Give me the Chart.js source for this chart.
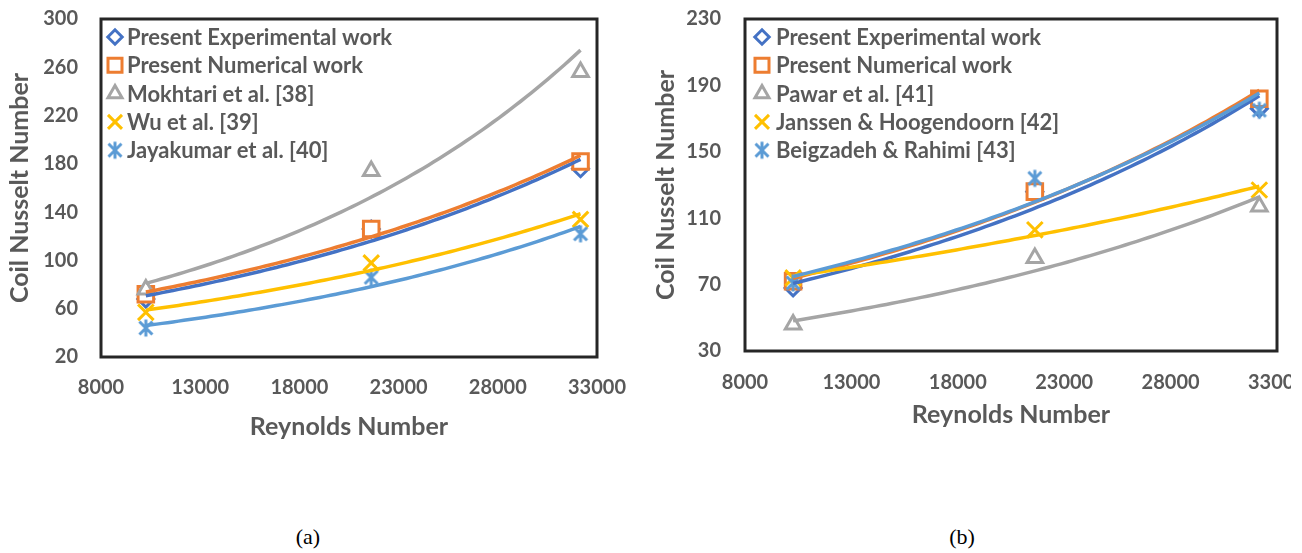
<!DOCTYPE html>
<html>
<head>
<meta charset="utf-8">
<script src="https://cdn.jsdelivr.net/npm/chart.js@4.4.1/dist/chart.umd.min.js"></script>
<style>
  html, body { margin: 0; padding: 0; background: #fff; }
  body { width: 1302px; height: 553px; position: relative; overflow: hidden; }
  #wrapA { position: absolute; left: 0; top: 0; width: 640px; height: 470px; }
  #wrapB { position: absolute; left: 640px; top: 0; width: 651px; height: 470px; overflow: hidden; }
  .cap { position: absolute; top: 524px; width: 100px; text-align: center;
         font-family: "Liberation Serif", "Times New Roman", serif; font-size: 22px; line-height: 26px; color: #000; }
</style>
</head>
<body>
<div id="wrapA"><canvas id="chartA" width="640" height="470"></canvas></div>
<div id="wrapB"><canvas id="chartB" width="700" height="470"></canvas></div>
<div class="cap" style="left:258px">(a)</div>
<div class="cap" style="left:912px">(b)</div>
<script>
// Reynolds numbers of the three test cases (shared by both panels)
const reynolds = [10260, 21620, 32170];

// Coil Nusselt numbers
const presentExperimental = [68, 126, 176];
const presentNumerical = [72, 126, 182];
const mokhtari = [76, 174, 256];
const wu = [57, 98, 134];
const jayakumar = [44, 86, 122];
const pawar = [46, 86, 117];
const janssen = [74, 103, 127];
const beigzadeh = [71, 134, 175];

// Axis tick labels
const xTicks = [8000, 13000, 18000, 23000, 28000, 33000];
const yTicksA = [20, 60, 100, 140, 180, 220, 260, 300];
const yTicksB = [30, 70, 110, 150, 190, 230];

const TEXT = '#595959';
const FONT = 'Lato, "Open Sans", sans-serif';
const COLORS = { blue: '#4472C4', orange: '#ED7D31', grey: '#A5A5A5', gold: '#FFC000', sky: '#5B9BD5' };

// asterisk marker (X with a vertical stroke)
function asteriskMarker(color) {
  const c = document.createElement('canvas');
  c.width = 20; c.height = 20;
  const g = c.getContext('2d');
  g.strokeStyle = color; g.lineWidth = 3; g.lineCap = 'butt';
  g.beginPath();
  g.moveTo(3.5, 3.5); g.lineTo(16.5, 16.5);
  g.moveTo(16.5, 3.5); g.lineTo(3.5, 16.5);
  g.moveTo(10, 1.5); g.lineTo(10, 18.5);
  g.stroke();
  return c;
}

// Excel-style exponential trendline: least squares on ln(y)
function expFit(xs, ys, steps) {
  const ly = ys.map(Math.log);
  const n = xs.length;
  const mx = xs.reduce((a, b) => a + b, 0) / n;
  const my = ly.reduce((a, b) => a + b, 0) / n;
  let sxy = 0, sxx = 0;
  for (let i = 0; i < n; i++) { sxy += (xs[i] - mx) * (ly[i] - my); sxx += (xs[i] - mx) ** 2; }
  const b = sxy / sxx, a = my - b * mx;
  const x0 = Math.min(...xs), x1 = Math.max(...xs);
  const pts = [];
  for (let k = 0; k <= steps; k++) {
    const x = x0 + (x1 - x0) * k / steps;
    pts.push({ x, y: Math.exp(a + b * x) });
  }
  return pts;
}

// plot frame
const framePlugin = {
  id: 'plotFrame',
  afterDraw(chart) {
    const { ctx, chartArea: a } = chart;
    ctx.save();
    ctx.strokeStyle = '#262626';
    ctx.lineWidth = 3;
    ctx.strokeRect(a.left, a.top, a.right - a.left, a.bottom - a.top);
    ctx.restore();
  }
};

// legend listing the marker series, drawn inside the plot area
const markerLegendPlugin = {
  id: 'markerLegend',
  afterDraw(chart, args, opts) {
    const { ctx, chartArea: a } = chart;
    const sets = chart.data.datasets.filter(d => d.isMarkerSeries);
    ctx.save();
    ctx.font = 'bold ' + opts.fontSize + 'px ' + FONT;
    ctx.textBaseline = 'middle';
    ctx.textAlign = 'left';
    sets.forEach((d, i) => {
      const y = a.top + opts.top + i * opts.rowGap;
      const x = a.left + opts.markerX;
      ctx.strokeStyle = d.borderColor;
      ctx.fillStyle = '#ffffff';
      ctx.lineWidth = d.pointBorderWidth;
      Chart.helpers.drawPoint(ctx, { pointStyle: d.pointStyle, radius: d.pointRadius * 0.9, borderWidth: d.pointBorderWidth, rotation: 0 }, x, y);
      ctx.fillStyle = TEXT;
      ctx.fillText(d.label, a.left + opts.textX, y + 1);
    });
    ctx.restore();
  }
};

function buildChart(id, series, cfg) {
  const markers = series.map((s, i) => ({
    label: s.name,
    isMarkerSeries: true,
    data: reynolds.map((x, k) => ({ x, y: s.values[k] })),
    showLine: false,
    pointStyle: s.style,
    pointRadius: s.radius,
    pointHoverRadius: s.radius,
    pointBorderWidth: 3,
    borderColor: s.color,
    backgroundColor: '#ffffff',
    order: 20 - i
  }));
  const fits = series.map((s, i) => ({
    label: s.name + ' trend',
    data: expFit(reynolds, s.values, 80),
    showLine: true,
    borderColor: s.color,
    borderWidth: 3.5,
    pointRadius: 0,
    fill: false,
    tension: 0,
    order: 10 - i
  }));

  const tickFont = { family: FONT, size: 20, weight: 'bold' };
  const titleFont = { family: FONT, size: 25, weight: 'bold' };
  // invisible tick marks provide the gap between the frame and the labels
  const hiddenGrid = len => ({ display: true, drawOnChartArea: false, drawTicks: true, tickLength: len, color: 'rgba(0,0,0,0)' });

  return new Chart(document.getElementById(id), {
    type: 'scatter',
    data: { datasets: markers.concat(fits) },
    plugins: [framePlugin, markerLegendPlugin],
    options: {
      responsive: false,
      animation: false,
      events: [],
      layout: { padding: { top: cfg.top, right: cfg.right, left: 0, bottom: 0 } },
      plugins: {
        legend: { display: false },
        tooltip: { enabled: false },
        markerLegend: cfg.legend
      },
      scales: {
        x: {
          type: 'linear', min: 8000, max: 33000,
          afterBuildTicks: s => { s.ticks = xTicks.map(v => ({ value: v })); },
          afterFit: s => { s.height = cfg.xHeight; },
          grid: hiddenGrid(cfg.xTickPad),
          border: { display: false },
          ticks: { color: TEXT, font: tickFont, padding: 0, maxRotation: 0, autoSkip: false, callback: v => String(v) },
          title: { display: true, text: 'Reynolds Number', color: TEXT, font: titleFont, padding: { top: 0, bottom: cfg.xTitlePad } }
        },
        y: {
          type: 'linear', min: cfg.yTicks[0], max: cfg.yTicks[cfg.yTicks.length - 1],
          afterBuildTicks: s => { s.ticks = cfg.yTicks.map(v => ({ value: v })); },
          afterFit: s => { s.width = cfg.yWidth; },
          grid: hiddenGrid(cfg.yTickPad),
          border: { display: false },
          ticks: { color: TEXT, font: tickFont, padding: 0, callback: v => String(v) },
          title: { display: true, text: 'Coil Nusselt Number', color: TEXT, font: titleFont, padding: { top: cfg.yTitlePad, bottom: 0 } }
        }
      }
    }
  });
}

const common = [
  { name: 'Present Experimental work', values: presentExperimental, color: COLORS.blue, style: 'rectRot', radius: 8 },
  { name: 'Present Numerical work', values: presentNumerical, color: COLORS.orange, style: 'rect', radius: 11 }
];

buildChart('chartA', common.concat([
  { name: 'Mokhtari et al. [38]', values: mokhtari, color: COLORS.grey, style: 'triangle', radius: 9 },
  { name: 'Wu et al. [39]', values: wu, color: COLORS.gold, style: 'crossRot', radius: 11 },
  { name: 'Jayakumar et al. [40]', values: jayakumar, color: COLORS.sky, style: asteriskMarker(COLORS.sky), radius: 10 }
]), {
  top: 19, right: 43, xHeight: 113, yWidth: 101,
  xTickPad: 19, xTitlePad: 28, yTickPad: 23, yTitlePad: 5,
  yTicks: yTicksA,
  legend: { fontSize: 22, markerX: 14, textX: 26, top: 18, rowGap: 28.3 }
});

buildChart('chartB', common.concat([
  { name: 'Pawar et al. [41]', values: pawar, color: COLORS.grey, style: 'triangle', radius: 9 },
  { name: 'Janssen & Hoogendoorn [42]', values: janssen, color: COLORS.gold, style: 'crossRot', radius: 11 },
  { name: 'Beigzadeh & Rahimi [43]', values: beigzadeh, color: COLORS.sky, style: asteriskMarker(COLORS.sky), radius: 10 }
]), {
  top: 19, right: 63, xHeight: 119, yWidth: 105,
  xTickPad: 20, xTitlePad: 40, yTickPad: 24, yTitlePad: 11,
  yTicks: yTicksB,
  legend: { fontSize: 22, markerX: 17, textX: 31, top: 18, rowGap: 28.3 }
});
</script>
</body>
</html>
